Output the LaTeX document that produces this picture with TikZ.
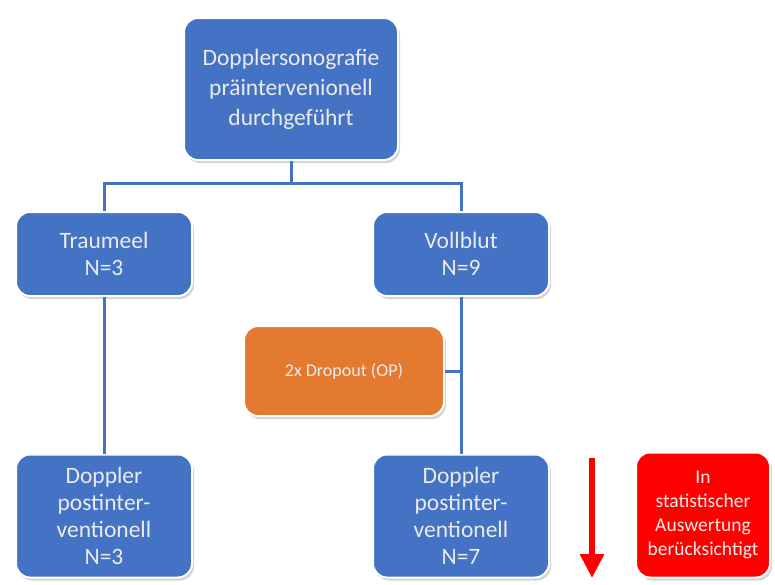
\documentclass[tikz,border=0pt]{standalone}
\usepackage{fontspec}
\setmainfont{Carlito}
\usetikzlibrary{shadows,arrows.meta}
\definecolor{bbox}{HTML}{4472C4}
\definecolor{obox}{HTML}{E47A30}
\definecolor{rbox}{HTML}{FF0000}
\definecolor{bline}{HTML}{4472C4}
\tikzset{
  card/.style={rectangle, rounded corners=14pt, draw=white, line width=2pt,
    text=white!92!black, align=center, inner sep=0pt,
    drop shadow={opacity=0.35, shadow xshift=2pt, shadow yshift=-3pt}},
  bluebox/.style={card, fill=bbox, font=\fontsize{23.5}{27}\selectfont},
  topbox/.style={card, fill=bbox, font=\fontsize{23.5}{30}\selectfont},
  orangebox/.style={card, fill=obox, font=\fontsize{18}{22}\selectfont},
  redbox/.style={card, fill=rbox, font=\fontsize{19.5}{24}\selectfont},
  link/.style={draw=bline, line width=3pt},
}
\begin{document}
\begin{tikzpicture}[x=1pt,y=-1pt]
\useasboundingbox (0,0) rectangle (775,584);
\node[topbox, minimum width=214pt, minimum height=142pt] (top) at (291,89)
  {Dopplersonografie\\präintervenionell\\durchgeführt};
\node[bluebox, minimum width=176pt, minimum height=84pt] (tr) at (104,254)
  {Traumeel\\N=3};
\node[bluebox, minimum width=176pt, minimum height=84pt] (vb) at (461,254)
  {Vollblut\\N=9};
\node[orangebox, minimum width=200pt, minimum height=90pt] (drop) at (344,371)
  {2x Dropout (OP)};
\node[bluebox, minimum width=176pt, minimum height=123pt] (dl) at (104,516)
  {Doppler\\postinter-\\ventionell\\N=3};
\node[bluebox, minimum width=176pt, minimum height=123pt] (dr) at (461,516)
  {Doppler\\postinter-\\ventionell\\N=7};
\node[redbox, minimum width=134pt, minimum height=125pt] (red) at (703,515)
  {In\\statistischer\\Auswertung\\berücksichtigt};
\coordinate (split) at (291,183);
\coordinate (atop) at (592,458);
\coordinate (abot) at (592,578);
\draw[link] (top.south) -- (split);
\draw[link] (split) -| (tr.north);
\draw[link] (split) -| (vb.north);
\draw[link] (tr.south) -- (dl.north);
\draw[link] (vb.south) -- (dr.north);
\draw[link] (drop.east) -- (drop.east -| vb.south);
\draw[draw=rbox, line width=6.5pt, -{Triangle[length=24pt,width=23pt]}] (atop) -- (abot);
\end{tikzpicture}
\end{document}
